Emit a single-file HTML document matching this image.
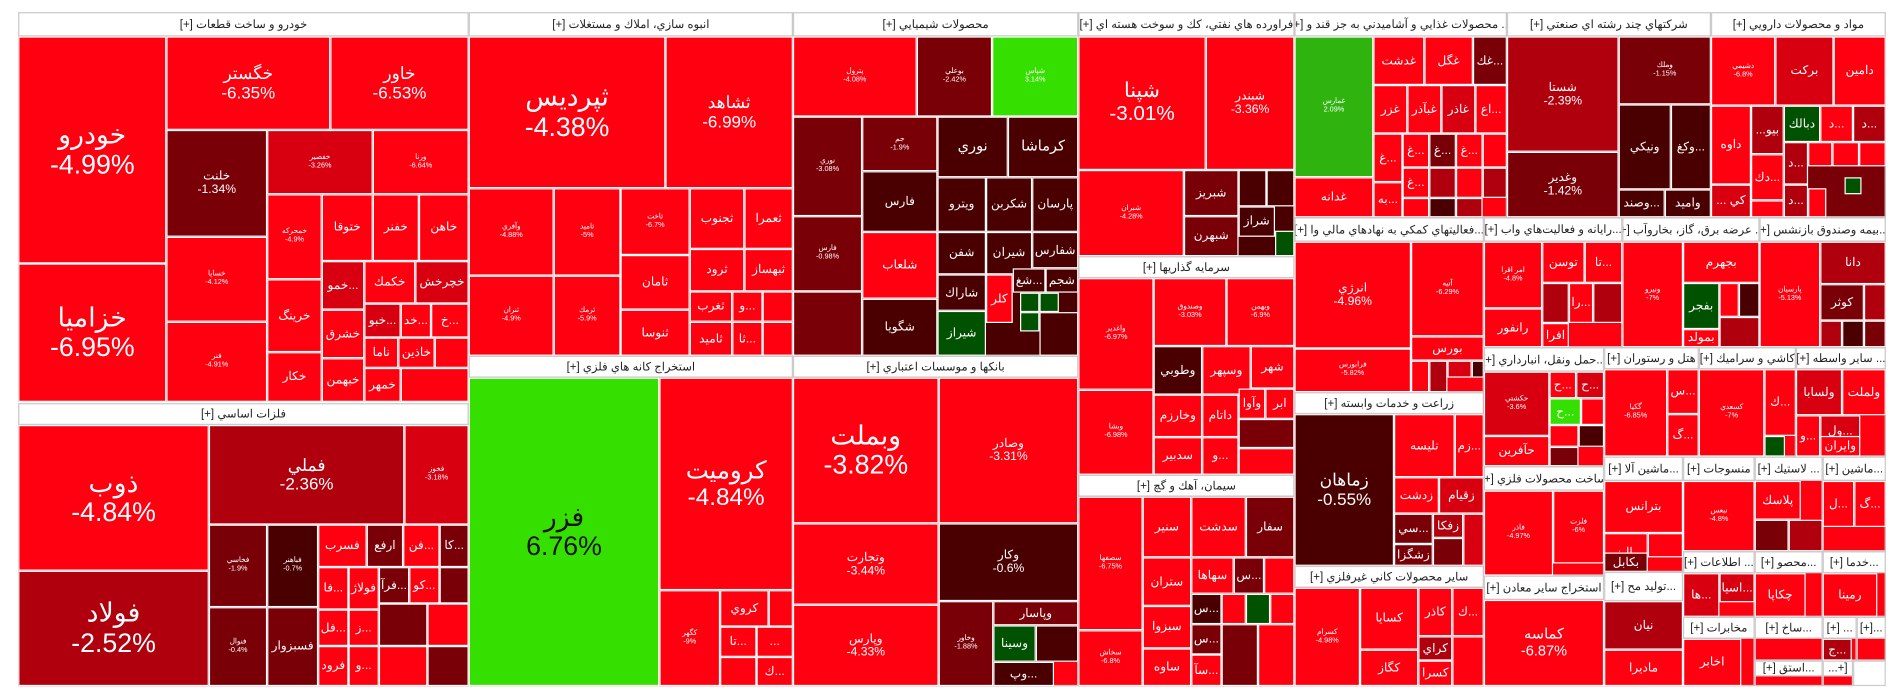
<!DOCTYPE html>
<html><head><meta charset="utf-8"><style>
body{margin:0;background:#fff;width:1904px;height:698px;overflow:hidden}
#w{position:absolute;left:0;top:0;width:1568px;height:575px;transform:scale(1.2143);transform-origin:0 0}
.t{position:absolute;box-sizing:border-box;border:1px solid #fff;background:#ff0010;color:#fff;display:flex;flex-direction:column;align-items:center;justify-content:center;text-align:center;font-family:"Liberation Sans","Noto Sans CJK SC",sans-serif;font-size:10px;line-height:1.1;overflow:hidden;white-space:nowrap}
.h{position:absolute;box-sizing:border-box;background:#fff;color:#222;border:1px solid #ccc;font-family:"Liberation Sans","Noto Sans CJK SC",sans-serif;font-size:9.5px;display:flex;align-items:center;justify-content:center;overflow:hidden;white-space:nowrap;direction:rtl}
.s{position:absolute;box-sizing:border-box;border:1px solid #ccc;background:#ff0010}
.d{background:#7a0008}.k{background:#4a0000}.m{background:#b0000e}.n{background:#d80010}.g{background:#2fb30f}.G{background:#35e000}.q{background:#005200}
.b{font-size:22px}.l{font-size:14px}.x{font-size:6px}
</style></head><body><div id="w">

<!-- Khodro -->
<div class="s" style="left:15px;top:10px;width:371px;height:321px"></div>
<div class="h" style="left:15px;top:10px;width:371px;height:20px">خودرو و ساخت قطعات [+]</div>
<div class="t b" style="left:15px;top:30px;width:122px;height:187px">خودرو<br>-4.99%</div>
<div class="t b" style="left:15px;top:217px;width:122px;height:114px">خزاميا<br>-6.95%</div>
<div class="t l" style="left:137px;top:30px;width:135px;height:77px">خگستر<br>-6.35%</div>
<div class="t l" style="left:272px;top:30px;width:114px;height:77px">خاور<br>-6.53%</div>
<div class="t d" style="left:137px;top:107px;width:83px;height:88px">خلنت<br>-1.34%</div>
<div class="t n x" style="left:220px;top:107px;width:87px;height:53px">خفصير<br>-3.26%</div>
<div class="t x" style="left:307px;top:107px;width:79px;height:53px">ورنا<br>-6.64%</div>
<div class="t x" style="left:137px;top:195px;width:83px;height:70px">خساپا<br>-4.12%</div>
<div class="t x" style="left:137px;top:265px;width:83px;height:66px">فنر<br>-4.91%</div>
<div class="t x" style="left:220px;top:160px;width:45px;height:70px">خمحركه<br>-4.9%</div>
<div class="t" style="left:265px;top:160px;width:42px;height:55px">ختوقا</div>
<div class="t" style="left:307px;top:160px;width:38px;height:55px">خفنر</div>
<div class="t" style="left:345px;top:160px;width:41px;height:55px">خاهن</div>
<div class="t n" style="left:265px;top:215px;width:35px;height:40px">خمو...</div>
<div class="t" style="left:300px;top:215px;width:42px;height:35px">خكمك</div>
<div class="t n" style="left:342px;top:215px;width:44px;height:35px">خچرخش</div>
<div class="t" style="left:220px;top:230px;width:45px;height:60px">خرينگ</div>
<div class="t n" style="left:300px;top:250px;width:30px;height:28px">خبو...</div>
<div class="t" style="left:330px;top:250px;width:25px;height:28px">خد...</div>
<div class="t" style="left:355px;top:250px;width:31px;height:28px">خ...</div>
<div class="t" style="left:265px;top:255px;width:35px;height:40px">خشرق</div>
<div class="t" style="left:300px;top:278px;width:28px;height:25px">ناما</div>
<div class="t" style="left:328px;top:278px;width:30px;height:25px">خاذين</div>
<div class="t" style="left:358px;top:278px;width:28px;height:25px"></div>
<div class="t" style="left:220px;top:290px;width:45px;height:41px">خكار</div>
<div class="t" style="left:265px;top:295px;width:35px;height:36px">خبهمن</div>
<div class="t" style="left:300px;top:303px;width:30px;height:28px">خمهر</div>
<div class="t" style="left:330px;top:303px;width:56px;height:28px"></div>

<!-- Felezat -->
<div class="s" style="left:15px;top:332px;width:371px;height:233px"></div>
<div class="h" style="left:15px;top:332px;width:371px;height:18px">فلزات اساسي [+]</div>
<div class="t b" style="left:15px;top:350px;width:157px;height:120px">ذوب<br>-4.84%</div>
<div class="t m b" style="left:15px;top:470px;width:157px;height:95px">فولاد<br>-2.52%</div>
<div class="t m l" style="left:172px;top:350px;width:161px;height:82px">فملي<br>-2.36%</div>
<div class="t n x" style="left:333px;top:350px;width:53px;height:82px">فخوز<br>-3.18%</div>
<div class="t d x" style="left:172px;top:432px;width:48px;height:68px">فخاسي<br>-1.9%</div>
<div class="t k x" style="left:220px;top:432px;width:42px;height:68px">فباهنر<br>-0.7%</div>
<div class="t d x" style="left:172px;top:500px;width:48px;height:65px">فنوال<br>-0.4%</div>
<div class="t d" style="left:220px;top:500px;width:42px;height:65px">فسبزوار</div>
<div class="t" style="left:262px;top:432px;width:40px;height:35px">فسرب</div>
<div class="t d" style="left:302px;top:432px;width:30px;height:35px">ارفع</div>
<div class="t" style="left:332px;top:432px;width:30px;height:35px">فن...</div>
<div class="t d" style="left:362px;top:432px;width:24px;height:35px">كا...</div>
<div class="t" style="left:262px;top:467px;width:25px;height:35px">فا...</div>
<div class="t" style="left:287px;top:467px;width:25px;height:35px">فولاژ</div>
<div class="t d" style="left:312px;top:467px;width:25px;height:30px">فرآ...</div>
<div class="t" style="left:337px;top:467px;width:25px;height:30px">كو...</div>
<div class="t d" style="left:362px;top:467px;width:24px;height:30px"></div>
<div class="t" style="left:262px;top:502px;width:25px;height:30px">فل...</div>
<div class="t" style="left:287px;top:502px;width:25px;height:30px">ز...</div>
<div class="t" style="left:262px;top:532px;width:25px;height:33px">فرود</div>
<div class="t" style="left:287px;top:532px;width:25px;height:33px">و...</div>
<div class="t d" style="left:312px;top:497px;width:40px;height:35px"></div>
<div class="t" style="left:352px;top:497px;width:34px;height:35px"></div>
<div class="t" style="left:312px;top:532px;width:40px;height:33px"></div>
<div class="t d" style="left:352px;top:532px;width:34px;height:33px"></div>

<!-- Anbooh -->
<div class="s" style="left:386px;top:10px;width:267px;height:283px"></div>
<div class="h" style="left:386px;top:10px;width:267px;height:20px">انبوه سازي، املاك و مستغلات [+]</div>
<div class="t b" style="left:386px;top:30px;width:162px;height:125px">ثپرديس<br>-4.38%</div>
<div class="t l" style="left:548px;top:30px;width:105px;height:125px">ثشاهد<br>-6.99%</div>
<div class="t x" style="left:386px;top:155px;width:70px;height:72px">وآفري<br>-4.88%</div>
<div class="t x" style="left:456px;top:155px;width:55px;height:72px">ثامید<br>-5%</div>
<div class="t x" style="left:386px;top:227px;width:70px;height:66px">ثنران<br>-4.9%</div>
<div class="t x" style="left:456px;top:227px;width:55px;height:66px">ثرمك<br>-5.9%</div>
<div class="t x" style="left:511px;top:155px;width:57px;height:55px">ثاخت<br>-6.7%</div>
<div class="t" style="left:511px;top:210px;width:57px;height:45px">ثامان</div>
<div class="t" style="left:511px;top:255px;width:57px;height:38px">ثنوسا</div>
<div class="t" style="left:568px;top:155px;width:45px;height:50px">ثجنوب</div>
<div class="t" style="left:613px;top:155px;width:40px;height:50px">ثعمرا</div>
<div class="t" style="left:568px;top:205px;width:45px;height:35px">ثرود</div>
<div class="t" style="left:613px;top:205px;width:40px;height:35px">ثبهساز</div>
<div class="t" style="left:568px;top:240px;width:35px;height:25px">ثغرب</div>
<div class="t" style="left:603px;top:240px;width:25px;height:25px">و...</div>
<div class="t" style="left:628px;top:240px;width:25px;height:25px"></div>
<div class="t" style="left:568px;top:265px;width:35px;height:28px">ثاميد</div>
<div class="t" style="left:603px;top:265px;width:25px;height:28px">ثا...</div>
<div class="t" style="left:628px;top:265px;width:25px;height:28px"></div>

<!-- Kaneh -->
<div class="s" style="left:386px;top:293px;width:267px;height:272px"></div>
<div class="h" style="left:386px;top:293px;width:267px;height:18px">استخراج كانه هاي فلزي [+]</div>
<div class="t G b" style="left:386px;top:311px;width:157px;height:254px;color:#111">فزر<br>6.76%</div>
<div class="t b" style="left:543px;top:311px;width:110px;height:175px;font-size:20px">كروميت<br>-4.84%</div>
<div class="t x" style="left:543px;top:486px;width:50px;height:79px">كگهر<br>-9%</div>
<div class="t" style="left:593px;top:486px;width:40px;height:30px">كروي</div>
<div class="t" style="left:633px;top:486px;width:20px;height:30px"></div>
<div class="t" style="left:593px;top:516px;width:30px;height:25px">تا...</div>
<div class="t" style="left:623px;top:516px;width:30px;height:25px">...</div>
<div class="t" style="left:593px;top:541px;width:30px;height:24px"></div>
<div class="t" style="left:623px;top:541px;width:30px;height:24px">ك...</div>

<!-- Shimiaee -->
<div class="s" style="left:653px;top:10px;width:235px;height:283px;background:#4a0000"></div>
<div class="h" style="left:653px;top:10px;width:235px;height:20px">محصولات شيميايي [+]</div>
<div class="t x" style="left:653px;top:30px;width:102px;height:66px">پترول<br>-4.08%</div>
<div class="t d x" style="left:755px;top:30px;width:62px;height:66px">بوعلي<br>-2.42%</div>
<div class="t G x" style="left:817px;top:30px;width:71px;height:66px">شپاس<br>3.14%</div>
<div class="t d x" style="left:653px;top:96px;width:57px;height:82px">نوري<br>-3.08%</div>
<div class="t d x" style="left:653px;top:178px;width:57px;height:62px">فارس<br>-0.98%</div>
<div class="t d x" style="left:653px;top:240px;width:57px;height:53px"></div>
<div class="t d x" style="left:710px;top:96px;width:62px;height:45px">جم<br>-1.9%</div>
<div class="t k" style="left:710px;top:141px;width:62px;height:50px">فارس</div>
<div class="t" style="left:710px;top:191px;width:62px;height:55px">شلعاب</div>
<div class="t k" style="left:710px;top:246px;width:62px;height:47px">شگويا</div>
<div class="t k l" style="left:772px;top:96px;width:58px;height:50px;font-size:12px">نوري</div>
<div class="t k" style="left:830px;top:96px;width:58px;height:50px;font-size:12px">كرماشا</div>
<div class="t k" style="left:772px;top:146px;width:40px;height:45px">ويترو</div>
<div class="t k" style="left:812px;top:146px;width:38px;height:45px">شكربن</div>
<div class="t k" style="left:850px;top:146px;width:38px;height:45px">پارسان</div>
<div class="t k" style="left:772px;top:191px;width:40px;height:35px">شفن</div>
<div class="t k" style="left:812px;top:191px;width:38px;height:35px">شيران</div>
<div class="t k" style="left:850px;top:191px;width:38px;height:30px">شفارس</div>
<div class="t k" style="left:772px;top:226px;width:40px;height:30px">شاراك</div>
<div class="t" style="left:812px;top:226px;width:22px;height:40px">كلر</div>
<div class="t k" style="left:834px;top:221px;width:27px;height:20px">شغ...</div>
<div class="t k" style="left:861px;top:221px;width:27px;height:20px">شجم</div>
<div class="t q" style="left:840px;top:241px;width:16px;height:16px"></div>
<div class="t q" style="left:856px;top:241px;width:16px;height:16px"></div>
<div class="t q" style="left:772px;top:256px;width:40px;height:37px">شيراز</div>
<div class="t q" style="left:840px;top:257px;width:16px;height:16px"></div>
<div class="t k" style="left:856px;top:257px;width:32px;height:36px"></div>

<!-- Banks -->
<div class="s" style="left:653px;top:293px;width:235px;height:272px"></div>
<div class="h" style="left:653px;top:293px;width:235px;height:18px">بانكها و موسسات اعتباري [+]</div>
<div class="t b" style="left:653px;top:311px;width:120px;height:120px">وبملت<br>-3.82%</div>
<div class="t" style="left:773px;top:311px;width:115px;height:120px">وصادر<br>-3.31%</div>
<div class="t" style="left:653px;top:431px;width:120px;height:67px">وتجارت<br>-3.44%</div>
<div class="t k" style="left:773px;top:431px;width:115px;height:64px">وكار<br>-0.6%</div>
<div class="t" style="left:653px;top:498px;width:120px;height:67px">وپارس<br>-4.33%</div>
<div class="t d x" style="left:773px;top:495px;width:45px;height:70px">وخاور<br>-1.88%</div>
<div class="t d" style="left:818px;top:495px;width:70px;height:20px">وپاسار</div>
<div class="t q" style="left:818px;top:515px;width:35px;height:30px">وسينا</div>
<div class="t k" style="left:853px;top:515px;width:35px;height:30px"></div>
<div class="t k" style="left:818px;top:545px;width:50px;height:20px">وپ...</div>

<!-- Naft -->
<div class="s" style="left:888px;top:10px;width:178px;height:201px;background:#4a0000"></div>
<div class="h" style="left:888px;top:10px;width:178px;height:20px">فراورده هاي نفتي، كك و سوخت هسته اي [+]</div>
<div class="t b" style="left:888px;top:30px;width:105px;height:110px;font-size:17px">شپنا<br>-3.01%</div>
<div class="t" style="left:993px;top:30px;width:73px;height:110px">شبندر<br>-3.36%</div>
<div class="t x" style="left:888px;top:140px;width:87px;height:71px">شبران<br>-4.28%</div>
<div class="t d" style="left:975px;top:140px;width:45px;height:38px">شبريز</div>
<div class="t d" style="left:975px;top:178px;width:45px;height:33px">شبهرن</div>
<div class="t k" style="left:1020px;top:140px;width:23px;height:30px"></div>
<div class="t k" style="left:1043px;top:140px;width:23px;height:30px"></div>
<div class="t k" style="left:1020px;top:170px;width:30px;height:25px">شراز</div>
<div class="t q" style="left:1050px;top:190px;width:16px;height:21px"></div>

<!-- Sarmayegozari -->
<div class="s" style="left:888px;top:211px;width:178px;height:180px"></div>
<div class="h" style="left:888px;top:211px;width:178px;height:18px">سرمايه گذاريها [+]</div>
<div class="t x" style="left:888px;top:229px;width:62px;height:92px">واغدير<br>-6.97%</div>
<div class="t x" style="left:888px;top:321px;width:62px;height:70px">وبشا<br>-6.98%</div>
<div class="t x" style="left:950px;top:229px;width:60px;height:56px">وصندوق<br>-3.03%</div>
<div class="t x" style="left:1010px;top:229px;width:56px;height:56px">وبهمن<br>-6.9%</div>
<div class="t k" style="left:950px;top:285px;width:40px;height:40px">وطوبي</div>
<div class="t" style="left:990px;top:285px;width:40px;height:40px">وسپهر</div>
<div class="t" style="left:1030px;top:285px;width:36px;height:35px">شهر</div>
<div class="t" style="left:950px;top:325px;width:40px;height:35px">وخارزم</div>
<div class="t" style="left:990px;top:325px;width:30px;height:35px">داتام</div>
<div class="t" style="left:1020px;top:320px;width:22px;height:25px">وآوا</div>
<div class="t" style="left:1042px;top:320px;width:24px;height:25px">ابر</div>
<div class="t" style="left:950px;top:360px;width:40px;height:31px">سدبير</div>
<div class="t" style="left:990px;top:360px;width:30px;height:31px">و...</div>
<div class="t d" style="left:1020px;top:345px;width:46px;height:24px"></div>
<div class="t" style="left:1020px;top:369px;width:46px;height:22px"></div>

<!-- Siman -->
<div class="s" style="left:888px;top:391px;width:178px;height:174px"></div>
<div class="h" style="left:888px;top:391px;width:178px;height:18px">سيمان، آهك و گچ [+]</div>
<div class="t x" style="left:888px;top:409px;width:53px;height:110px">سصفها<br>-6.75%</div>
<div class="t x" style="left:888px;top:519px;width:53px;height:46px">سخاش<br>-6.8%</div>
<div class="t" style="left:941px;top:409px;width:40px;height:50px">سنير</div>
<div class="t" style="left:981px;top:409px;width:45px;height:50px">سدشت</div>
<div class="t d" style="left:1026px;top:409px;width:40px;height:50px">سفار</div>
<div class="t" style="left:941px;top:459px;width:40px;height:40px">ستران</div>
<div class="t" style="left:981px;top:459px;width:35px;height:30px">سهاها</div>
<div class="t d" style="left:1016px;top:459px;width:25px;height:30px">س...</div>
<div class="t" style="left:1041px;top:459px;width:25px;height:30px"></div>
<div class="t" style="left:941px;top:499px;width:40px;height:35px">سبزوا</div>
<div class="t" style="left:941px;top:534px;width:40px;height:31px">ساوه</div>
<div class="t k" style="left:981px;top:489px;width:25px;height:25px">س...</div>
<div class="t" style="left:1006px;top:489px;width:20px;height:25px"></div>
<div class="t q" style="left:1026px;top:489px;width:20px;height:25px"></div>
<div class="t" style="left:1046px;top:489px;width:20px;height:25px"></div>
<div class="t d" style="left:981px;top:514px;width:25px;height:25px">س...</div>
<div class="t" style="left:981px;top:539px;width:25px;height:26px">سآ...</div>
<div class="t d" style="left:1006px;top:514px;width:30px;height:51px"></div>
<div class="t" style="left:1036px;top:514px;width:30px;height:51px"></div>

<!-- Ghazaee -->
<div class="s" style="left:1066px;top:10px;width:175px;height:169px"></div>
<div class="h" style="left:1066px;top:10px;width:175px;height:20px">... محصولات غذايي و آشاميدني به جز قند و [+]</div>
<div class="t g x" style="left:1066px;top:30px;width:65px;height:116px">غمارس<br>2.09%</div>
<div class="t" style="left:1066px;top:146px;width:65px;height:33px">غدانه</div>
<div class="t" style="left:1066px;top:179px;width:65px;height:0px"></div>
<div class="t" style="left:1131px;top:30px;width:42px;height:40px">غدشت</div>
<div class="t" style="left:1173px;top:30px;width:40px;height:40px">غگل</div>
<div class="t d" style="left:1213px;top:30px;width:28px;height:40px">غك...</div>
<div class="t" style="left:1131px;top:70px;width:28px;height:40px">غزر</div>
<div class="t" style="left:1159px;top:70px;width:28px;height:40px">غبآذر</div>
<div class="t n" style="left:1187px;top:70px;width:28px;height:40px">غاذر</div>
<div class="t" style="left:1215px;top:70px;width:26px;height:40px">اع...</div>
<div class="t" style="left:1131px;top:110px;width:24px;height:40px">غ...</div>
<div class="t" style="left:1155px;top:110px;width:22px;height:28px">غ...</div>
<div class="t d" style="left:1177px;top:110px;width:22px;height:28px">غ...</div>
<div class="t" style="left:1199px;top:110px;width:22px;height:28px">غ...</div>
<div class="t" style="left:1221px;top:110px;width:20px;height:28px"></div>
<div class="t" style="left:1131px;top:150px;width:24px;height:29px">به...</div>
<div class="t" style="left:1155px;top:138px;width:22px;height:25px">غ...</div>
<div class="t m" style="left:1177px;top:138px;width:22px;height:25px"></div>
<div class="t" style="left:1199px;top:138px;width:22px;height:25px"></div>
<div class="t m" style="left:1221px;top:138px;width:20px;height:25px"></div>
<div class="t" style="left:1155px;top:163px;width:22px;height:16px"></div>
<div class="t k" style="left:1177px;top:163px;width:22px;height:16px"></div>
<div class="t m" style="left:1199px;top:163px;width:22px;height:16px"></div>

<!-- Chand reshte -->
<div class="s" style="left:1241px;top:10px;width:168px;height:169px;background:#7a0008"></div>
<div class="h" style="left:1241px;top:10px;width:168px;height:20px">شركتهاي چند رشته اي صنعتي [+]</div>
<div class="t m" style="left:1241px;top:30px;width:92px;height:95px">شستا<br>-2.39%</div>
<div class="t d" style="left:1241px;top:125px;width:92px;height:54px">وغدير<br>-1.42%</div>
<div class="t d x" style="left:1333px;top:30px;width:76px;height:56px">وملك<br>-1.15%</div>
<div class="t k" style="left:1333px;top:86px;width:43px;height:70px">ونيكي</div>
<div class="t k" style="left:1376px;top:86px;width:33px;height:70px">وكغ...</div>
<div class="t k" style="left:1333px;top:156px;width:38px;height:23px">وصند...</div>
<div class="t k" style="left:1371px;top:156px;width:38px;height:23px">واميد</div>

<!-- Daroo -->
<div class="s" style="left:1409px;top:10px;width:144px;height:169px;background:#7a0008"></div>
<div class="h" style="left:1409px;top:10px;width:144px;height:20px">مواد و محصولات دارويي [+]</div>
<div class="t x" style="left:1409px;top:30px;width:53px;height:57px">دشيمي<br>-6.8%</div>
<div class="t n" style="left:1462px;top:30px;width:48px;height:57px">بركت</div>
<div class="t" style="left:1510px;top:30px;width:43px;height:57px">دامين</div>
<div class="t" style="left:1409px;top:87px;width:33px;height:65px">داوه</div>
<div class="t n" style="left:1409px;top:152px;width:33px;height:27px">... كي</div>
<div class="t m" style="left:1442px;top:87px;width:27px;height:40px">...بيو</div>
<div class="t" style="left:1442px;top:127px;width:27px;height:38px">دك...</div>
<div class="t" style="left:1442px;top:165px;width:27px;height:14px"></div>
<div class="t q" style="left:1469px;top:87px;width:30px;height:30px">دبالك</div>
<div class="t" style="left:1499px;top:87px;width:27px;height:30px">د...</div>
<div class="t m" style="left:1526px;top:87px;width:27px;height:30px">د...</div>
<div class="t m" style="left:1469px;top:117px;width:20px;height:35px">د...</div>
<div class="t" style="left:1489px;top:117px;width:20px;height:20px"></div>
<div class="t" style="left:1509px;top:117px;width:22px;height:20px"></div>
<div class="t" style="left:1531px;top:117px;width:22px;height:20px"></div>
<div class="t m" style="left:1469px;top:152px;width:20px;height:27px">د...</div>
<div class="t" style="left:1489px;top:155px;width:15px;height:24px"></div>
<div class="t q" style="left:1519px;top:146px;width:14px;height:14px"></div>

<!-- Komaki -->
<div class="s" style="left:1066px;top:179px;width:156px;height:144px"></div>
<div class="h" style="left:1066px;top:179px;width:156px;height:20px">...فعاليتهاي كمكي به نهادهاي مالي وا [+]</div>
<div class="t" style="left:1066px;top:199px;width:96px;height:88px">انرژي<br>-4.96%</div>
<div class="t x" style="left:1162px;top:199px;width:60px;height:78px">آتيه<br>-6.29%</div>
<div class="t x" style="left:1066px;top:287px;width:96px;height:36px">فرابورس<br>-5.82%</div>
<div class="t" style="left:1162px;top:277px;width:60px;height:20px">بورس</div>
<div class="t" style="left:1162px;top:297px;width:15px;height:26px"></div>
<div class="t m" style="left:1177px;top:297px;width:15px;height:26px"></div>
<div class="t n" style="left:1192px;top:297px;width:20px;height:14px"></div>
<div class="t k" style="left:1212px;top:297px;width:10px;height:14px"></div>

<!-- Rayaneh -->
<div class="s" style="left:1222px;top:179px;width:114px;height:107px"></div>
<div class="h" style="left:1222px;top:179px;width:114px;height:20px">...رايانه و فعاليت‌هاي واب [+]</div>
<div class="t x" style="left:1222px;top:199px;width:48px;height:55px">امر اقرا<br>-4.8%</div>
<div class="t" style="left:1222px;top:254px;width:48px;height:32px">رانفور</div>
<div class="t" style="left:1270px;top:199px;width:35px;height:34px">توسن</div>
<div class="t" style="left:1305px;top:199px;width:31px;height:34px">تا...</div>
<div class="t m" style="left:1270px;top:233px;width:22px;height:33px"></div>
<div class="t" style="left:1292px;top:233px;width:20px;height:33px">را...</div>
<div class="t m" style="left:1312px;top:233px;width:24px;height:33px"></div>
<div class="t" style="left:1270px;top:266px;width:22px;height:20px">افرا</div>

<!-- Bargh -->
<div class="s" style="left:1336px;top:179px;width:113px;height:107px"></div>
<div class="h" style="left:1336px;top:179px;width:113px;height:20px">... عرضه برق، گاز، بخاروآب [+]</div>
<div class="t x" style="left:1336px;top:199px;width:50px;height:87px">ونيرو<br>-7%</div>
<div class="t" style="left:1386px;top:199px;width:63px;height:34px">بجهرم</div>
<div class="t q" style="left:1386px;top:233px;width:30px;height:38px">بفجر</div>
<div class="t" style="left:1416px;top:233px;width:16px;height:28px"></div>
<div class="t k" style="left:1432px;top:233px;width:17px;height:28px"></div>
<div class="t" style="left:1386px;top:271px;width:30px;height:15px">بمولد</div>
<div class="t m" style="left:1416px;top:261px;width:33px;height:25px"></div>

<!-- Bimeh -->
<div class="s" style="left:1449px;top:179px;width:104px;height:107px"></div>
<div class="h" style="left:1449px;top:179px;width:104px;height:20px">...بيمه وصندوق بازنشس [+]</div>
<div class="t x" style="left:1449px;top:199px;width:50px;height:87px">پارسيان<br>-5.13%</div>
<div class="t m" style="left:1499px;top:199px;width:54px;height:35px">دانا</div>
<div class="t d" style="left:1499px;top:234px;width:36px;height:30px">كوثر</div>
<div class="t m" style="left:1535px;top:234px;width:18px;height:30px"></div>
<div class="t m" style="left:1499px;top:264px;width:18px;height:22px"></div>
<div class="t k" style="left:1517px;top:264px;width:18px;height:22px"></div>
<div class="t d" style="left:1535px;top:264px;width:18px;height:22px"></div>

<!-- Zeraat -->
<div class="s" style="left:1066px;top:323px;width:156px;height:143px"></div>
<div class="h" style="left:1066px;top:323px;width:156px;height:18px">زراعت و خدمات وابسته [+]</div>
<div class="t k l" style="left:1066px;top:341px;width:82px;height:125px">زماهان<br>-0.55%</div>
<div class="t" style="left:1148px;top:341px;width:50px;height:52px">تليسه</div>
<div class="t" style="left:1198px;top:341px;width:24px;height:52px">زم...</div>
<div class="t" style="left:1148px;top:393px;width:37px;height:30px">زدشت</div>
<div class="t n" style="left:1185px;top:393px;width:37px;height:30px">زقيام</div>
<div class="t d" style="left:1148px;top:423px;width:32px;height:25px">سي...</div>
<div class="t m" style="left:1180px;top:423px;width:25px;height:20px">زفكا</div>
<div class="t d" style="left:1148px;top:448px;width:32px;height:18px">زشگزا</div>
<div class="t d" style="left:1180px;top:443px;width:25px;height:23px"></div>
<div class="t n" style="left:1205px;top:423px;width:17px;height:43px"></div>

<!-- Kani gheyrfelezi -->
<div class="s" style="left:1066px;top:466px;width:156px;height:99px"></div>
<div class="h" style="left:1066px;top:466px;width:156px;height:18px">ساير محصولات كاني غيرفلزي [+]</div>
<div class="t x" style="left:1066px;top:484px;width:54px;height:81px">كسرام<br>-4.98%</div>
<div class="t" style="left:1120px;top:484px;width:48px;height:51px">كسايا</div>
<div class="t" style="left:1120px;top:535px;width:48px;height:30px">كگاز</div>
<div class="t" style="left:1168px;top:484px;width:28px;height:40px">كاذر</div>
<div class="t" style="left:1196px;top:484px;width:26px;height:40px">ك...</div>
<div class="t m" style="left:1168px;top:524px;width:28px;height:20px">كراي</div>
<div class="t" style="left:1168px;top:544px;width:28px;height:21px">كسرا</div>
<div class="t" style="left:1196px;top:524px;width:26px;height:41px"></div>

<!-- Haml -->
<div class="s" style="left:1222px;top:286px;width:99px;height:98px"></div>
<div class="h" style="left:1222px;top:286px;width:99px;height:20px">...حمل ونقل، انبارداري [+]</div>
<div class="t n x" style="left:1222px;top:306px;width:54px;height:53px">حكشتي<br>-3.6%</div>
<div class="t" style="left:1222px;top:359px;width:54px;height:25px">حآفرين</div>
<div class="t" style="left:1276px;top:306px;width:22px;height:22px">ح...</div>
<div class="t n" style="left:1298px;top:306px;width:23px;height:22px">ح...</div>
<div class="t G" style="left:1276px;top:328px;width:26px;height:22px">ح...</div>
<div class="t" style="left:1302px;top:328px;width:19px;height:22px"></div>
<div class="t" style="left:1276px;top:350px;width:24px;height:18px"></div>
<div class="t k" style="left:1300px;top:350px;width:21px;height:18px"></div>
<div class="t d" style="left:1276px;top:368px;width:24px;height:16px"></div>

<!-- Felezi -->
<div class="s" style="left:1222px;top:384px;width:99px;height:90px"></div>
<div class="h" style="left:1222px;top:384px;width:99px;height:20px">ساخت محصولات فلزي [+]</div>
<div class="t x" style="left:1222px;top:404px;width:57px;height:70px">فاذر<br>-4.97%</div>
<div class="t x" style="left:1279px;top:404px;width:42px;height:60px">فلزت<br>-6%</div>

<!-- Sayer maaden -->
<div class="s" style="left:1222px;top:474px;width:99px;height:91px"></div>
<div class="h" style="left:1222px;top:474px;width:99px;height:20px">استخراج ساير معادن [+]</div>
<div class="t" style="left:1222px;top:494px;width:99px;height:71px;font-size:12px">كماسه<br>-6.87%</div>

<!-- Hotel / Kashi / Vaseteh -->
<div class="s" style="left:1321px;top:286px;width:78px;height:90px"></div>
<div class="h" style="left:1321px;top:286px;width:78px;height:18px">هتل و رستوران [+]</div>
<div class="t x" style="left:1321px;top:304px;width:52px;height:72px">گكيا<br>-6.85%</div>
<div class="t" style="left:1373px;top:304px;width:26px;height:37px">س...</div>
<div class="t" style="left:1373px;top:341px;width:26px;height:35px">گ...</div>
<div class="s" style="left:1399px;top:286px;width:80px;height:90px"></div>
<div class="h" style="left:1399px;top:286px;width:80px;height:18px">كاشي و سراميك [+]</div>
<div class="t x" style="left:1399px;top:304px;width:54px;height:72px">كسعدي<br>-7%</div>
<div class="t" style="left:1453px;top:304px;width:26px;height:55px">ك...</div>
<div class="t q" style="left:1453px;top:359px;width:17px;height:17px"></div>
<div class="s" style="left:1479px;top:286px;width:74px;height:90px"></div>
<div class="h" style="left:1479px;top:286px;width:74px;height:18px">... ساير واسطه [+]</div>
<div class="t n" style="left:1479px;top:304px;width:38px;height:38px">ولسابا</div>
<div class="t" style="left:1517px;top:304px;width:36px;height:38px">ولملت</div>
<div class="t" style="left:1479px;top:342px;width:20px;height:34px">و...</div>
<div class="t n" style="left:1499px;top:342px;width:33px;height:27px">ول...</div>
<div class="t" style="left:1499px;top:359px;width:33px;height:17px">وايران</div>

<!-- bottom right small sectors -->
<div class="s" style="left:1321px;top:376px;width:65px;height:95px"></div>
<div class="h" style="left:1321px;top:376px;width:65px;height:20px">...ماشين آلا [+]</div>
<div class="t" style="left:1321px;top:396px;width:65px;height:43px">بترانس</div>
<div class="t" style="left:1321px;top:439px;width:36px;height:32px">باليز</div>
<div class="t" style="left:1357px;top:439px;width:29px;height:20px"></div>
<div class="t d" style="left:1321px;top:455px;width:36px;height:16px">بكابل</div>
<div class="s" style="left:1386px;top:376px;width:59px;height:78px"></div>
<div class="h" style="left:1386px;top:376px;width:59px;height:20px">منسوجات [+]</div>
<div class="t x" style="left:1386px;top:396px;width:59px;height:58px">نبعس<br>-4.8%</div>
<div class="s" style="left:1445px;top:376px;width:56px;height:78px"></div>
<div class="h" style="left:1445px;top:376px;width:56px;height:20px">... لاستيك [+]</div>
<div class="t" style="left:1445px;top:396px;width:38px;height:32px">پلاسك</div>
<div class="t d" style="left:1445px;top:428px;width:28px;height:26px"></div>
<div class="t m" style="left:1473px;top:428px;width:28px;height:26px"></div>
<div class="s" style="left:1501px;top:376px;width:52px;height:78px"></div>
<div class="h" style="left:1501px;top:376px;width:52px;height:20px">...ماشين [+]</div>
<div class="t" style="left:1501px;top:396px;width:26px;height:38px">ل...</div>
<div class="t" style="left:1527px;top:396px;width:26px;height:38px">گ...</div>
<div class="s" style="left:1321px;top:471px;width:65px;height:94px"></div>
<div class="h" style="left:1321px;top:471px;width:65px;height:24px">...توليد مح [+]</div>
<div class="t m" style="left:1321px;top:495px;width:65px;height:40px">نيان</div>
<div class="t" style="left:1321px;top:535px;width:65px;height:30px">ماديرا</div>
<div class="s" style="left:1386px;top:454px;width:59px;height:54px"></div>
<div class="h" style="left:1386px;top:454px;width:59px;height:18px">... اطلاعات [+]</div>
<div class="t n" style="left:1386px;top:472px;width:30px;height:36px">ها...</div>
<div class="t n" style="left:1416px;top:472px;width:29px;height:24px">اسيا...</div>
<div class="s" style="left:1386px;top:508px;width:59px;height:57px"></div>
<div class="h" style="left:1386px;top:508px;width:59px;height:18px">مخابرات [+]</div>
<div class="t" style="left:1386px;top:526px;width:48px;height:39px">اخابر</div>
<div class="s" style="left:1445px;top:454px;width:56px;height:54px"></div>
<div class="h" style="left:1445px;top:454px;width:56px;height:18px">...محصو [+]</div>
<div class="t" style="left:1445px;top:472px;width:42px;height:36px">چكاپا</div>
<div class="s" style="left:1501px;top:454px;width:52px;height:54px"></div>
<div class="h" style="left:1501px;top:454px;width:52px;height:18px">...خدما [+]</div>
<div class="t" style="left:1501px;top:472px;width:45px;height:36px">رمينا</div>
<div class="s" style="left:1445px;top:508px;width:56px;height:36px"></div>
<div class="h" style="left:1445px;top:508px;width:56px;height:18px">...ساخ [+]</div>
<div class="s" style="left:1501px;top:508px;width:28px;height:36px"></div>
<div class="h" style="left:1501px;top:508px;width:28px;height:18px">... [+]</div>
<div class="t m" style="left:1501px;top:526px;width:24px;height:18px">ج...</div>
<div class="s" style="left:1529px;top:508px;width:24px;height:36px"></div>
<div class="h" style="left:1529px;top:508px;width:24px;height:18px">...[+]</div>
<div class="s" style="left:1445px;top:544px;width:56px;height:21px"></div>
<div class="h" style="left:1445px;top:544px;width:56px;height:13px">...استق [+]</div>
<div class="s" style="left:1501px;top:544px;width:25px;height:21px"></div>
<div class="h" style="left:1501px;top:544px;width:25px;height:13px">[+...</div>
<div class="s" style="left:1526px;top:544px;width:27px;height:21px;background:#fff"></div>
</div></body></html>
